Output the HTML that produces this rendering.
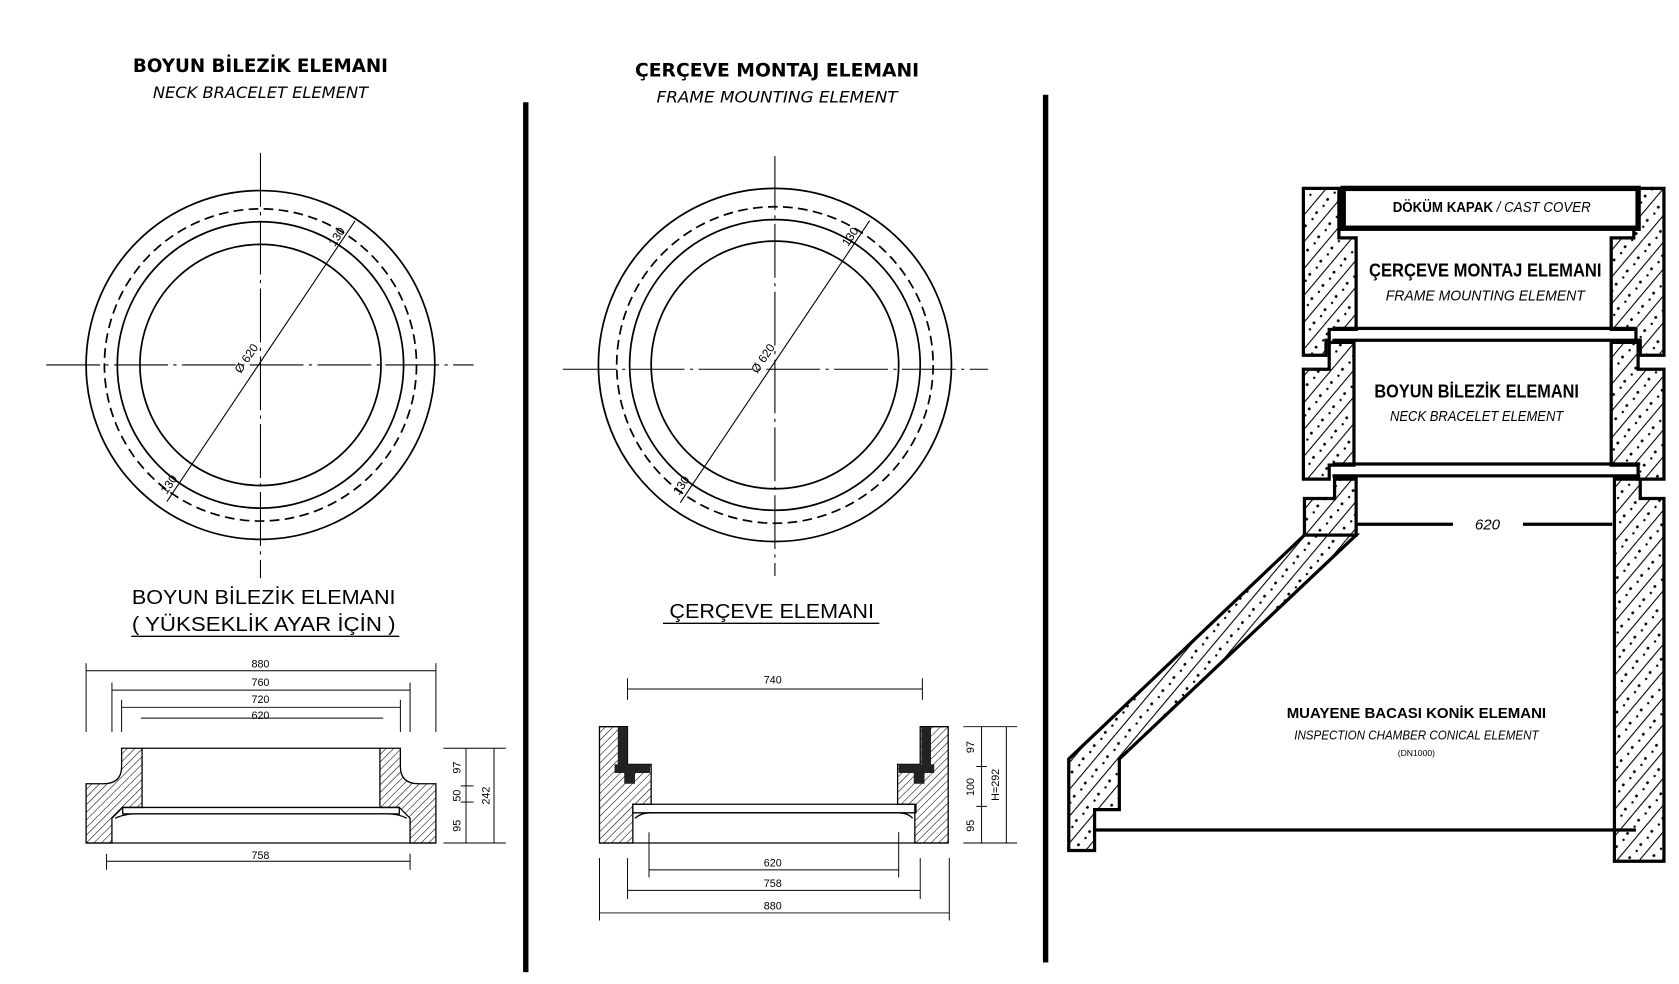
<!DOCTYPE html>
<html><head><meta charset="utf-8"><style>
html,body{margin:0;padding:0;background:#fff;}
svg{display:block}
text{font-family:"Liberation Sans",sans-serif;fill:#000}
.t{font-family:"DejaVu Sans","Liberation Sans",sans-serif;}
</style></head><body>
<svg width="1679" height="984" viewBox="0 0 1560 914" preserveAspectRatio="none" xmlns="http://www.w3.org/2000/svg">
<defs>
<pattern id="h" width="5" height="5" patternUnits="userSpaceOnUse" patternTransform="rotate(45)"><line x1="0" y1="0" x2="0" y2="5" stroke="#000" stroke-width="1"/></pattern>
<pattern id="w" width="16" height="16" patternUnits="userSpaceOnUse" patternTransform="rotate(40)"><line x1="0" y1="0" x2="0" y2="16" stroke="#000" stroke-width="2"/><circle cx="8" cy="5" r="1.3" fill="#000"/><circle cx="9" cy="12" r="1.1" fill="#000"/></pattern>
</defs>
<rect width="1560" height="914" fill="#fff"/>
<rect x="486" y="95" width="5" height="808" fill="#000"/>
<rect x="969" y="88" width="5" height="806" fill="#000"/>

<!-- LEFT PANEL -->
<text class="t" x="242" y="67" font-size="17" font-weight="bold" text-anchor="middle" textLength="237" lengthAdjust="spacingAndGlyphs">BOYUN BİLEZİK ELEMANI</text>
<text class="t" x="242" y="91" font-size="15" font-style="italic" text-anchor="middle" textLength="200" lengthAdjust="spacingAndGlyphs">NECK BRACELET ELEMENT</text>
<g fill="none" stroke="#000" stroke-width="1.6">
<circle cx="242" cy="339" r="162"/>
<circle cx="242" cy="339" r="145" stroke-dasharray="9 5"/>
<circle cx="242" cy="339" r="133"/>
<circle cx="242" cy="339" r="112"/>
</g>
<g stroke="#000" stroke-width="1" stroke-dasharray="50 5 3 5">
<line x1="43" y1="339" x2="440" y2="339"/><line x1="242" y1="142" x2="242" y2="537"/>
</g>
<line x1="155" y1="466" x2="330" y2="205" stroke="#000" stroke-width="1"/>
<text x="232" y="335" font-size="11" transform="rotate(-56 232 335)" text-anchor="middle">Ø 620</text>
<text x="316" y="222" font-size="11" transform="rotate(-56 316 222)" text-anchor="middle">130</text>
<text x="160" y="452" font-size="11" transform="rotate(-56 160 452)" text-anchor="middle">130</text>

<text x="245" y="561" font-size="19" text-anchor="middle" textLength="245" lengthAdjust="spacingAndGlyphs">BOYUN BİLEZİK ELEMANI</text>
<text x="245" y="586" font-size="19" text-anchor="middle" textLength="245" lengthAdjust="spacingAndGlyphs">( YÜKSEKLİK AYAR İÇİN )</text>
<line x1="122" y1="591" x2="371" y2="591" stroke="#000" stroke-width="1.3"/>
<g stroke="#000" stroke-width="0.9" fill="none">
<line x1="80" y1="616" x2="80" y2="680"/><line x1="405" y1="616" x2="405" y2="680"/>
<line x1="80" y1="623" x2="405" y2="623"/>
<line x1="104" y1="634" x2="104" y2="680"/><line x1="381" y1="634" x2="381" y2="680"/>
<line x1="104" y1="641" x2="381" y2="641"/>
<line x1="113" y1="650" x2="113" y2="680"/><line x1="372" y1="650" x2="372" y2="680"/>
<line x1="113" y1="657" x2="372" y2="657"/>
<line x1="131" y1="667" x2="356" y2="667"/>
<line x1="99" y1="793" x2="99" y2="808"/><line x1="381" y1="793" x2="381" y2="808"/>
<line x1="99" y1="800" x2="381" y2="800"/>
<line x1="412" y1="695" x2="470" y2="695"/><line x1="412" y1="783" x2="470" y2="783"/>
<line x1="428" y1="745" x2="440" y2="745"/><line x1="428" y1="730" x2="440" y2="730"/>
<line x1="433" y1="695" x2="433" y2="783"/><line x1="459" y1="695" x2="459" y2="783"/>
</g>
<g font-size="10" text-anchor="middle">
<text x="242" y="620">880</text><text x="242" y="637">760</text><text x="242" y="653">720</text><text x="242" y="668">620</text><text x="242" y="798">758</text>
<text transform="translate(428 713) rotate(-90)">97</text>
<text transform="translate(428 739) rotate(-90)">50</text>
<text transform="translate(428 767) rotate(-90)">95</text>
<text transform="translate(455 739) rotate(-90)">242</text>
</g>
<g stroke="#000" stroke-width="1.2" fill="url(#h)">
<path d="M113 695 H132 V750 H114 L104 760 V783 H80 V728 H96 Q113 728 113 712 Z"/>
<path d="M372 695 H353 V750 H371 L381 760 V783 H405 V728 H389 Q372 728 372 712 Z"/>
</g>
<g stroke="#000" stroke-width="1.2" fill="none">
<line x1="132" y1="695" x2="353" y2="695"/>
<path d="M114 750 H371 V756 H114 Z"/>
<path d="M107 760 Q116 756 125 756 H360 Q370 756 378 760"/>
<line x1="80" y1="783" x2="405" y2="783"/>
</g>

<!-- MIDDLE PANEL -->
<text class="t" x="722" y="71" font-size="17" font-weight="bold" text-anchor="middle" textLength="264" lengthAdjust="spacingAndGlyphs">ÇERÇEVE MONTAJ ELEMANI</text>
<text class="t" x="722" y="95" font-size="15" font-style="italic" text-anchor="middle" textLength="224" lengthAdjust="spacingAndGlyphs">FRAME MOUNTING ELEMENT</text>
<g fill="none" stroke="#000" stroke-width="1.6">
<circle cx="720" cy="339" r="164"/>
<circle cx="720" cy="339" r="147" stroke-dasharray="9 5"/>
<circle cx="720" cy="339" r="135"/>
<circle cx="720" cy="339" r="115"/>
</g>
<g stroke="#000" stroke-width="1" stroke-dasharray="50 5 3 5">
<line x1="523" y1="343" x2="918" y2="343"/><line x1="720" y1="145" x2="720" y2="535"/>
</g>
<line x1="632" y1="467" x2="808" y2="205" stroke="#000" stroke-width="1"/>
<text x="712" y="335" font-size="11" transform="rotate(-56 712 335)" text-anchor="middle">Ø 620</text>
<text x="793" y="222" font-size="11" transform="rotate(-56 793 222)" text-anchor="middle">130</text>
<text x="636" y="453" font-size="11" transform="rotate(-56 636 453)" text-anchor="middle">130</text>

<text x="717" y="574" font-size="19" text-anchor="middle" textLength="190" lengthAdjust="spacingAndGlyphs">ÇERÇEVE ELEMANI</text>
<line x1="616" y1="579" x2="817" y2="579" stroke="#000" stroke-width="1.3"/>
<g stroke="#000" stroke-width="0.9" fill="none">
<line x1="583" y1="630" x2="583" y2="650"/><line x1="857" y1="630" x2="857" y2="650"/>
<line x1="583" y1="640" x2="857" y2="640"/>
<line x1="603" y1="773" x2="603" y2="815"/><line x1="835" y1="773" x2="835" y2="815"/>
<line x1="603" y1="808" x2="835" y2="808"/>
<line x1="583" y1="797" x2="583" y2="835"/><line x1="855" y1="797" x2="855" y2="835"/>
<line x1="583" y1="827" x2="855" y2="827"/>
<line x1="557" y1="797" x2="557" y2="855"/><line x1="882" y1="797" x2="882" y2="855"/>
<line x1="557" y1="848" x2="882" y2="848"/>
<line x1="895" y1="675" x2="945" y2="675"/><line x1="895" y1="783" x2="945" y2="783"/>
<line x1="907" y1="712" x2="917" y2="712"/><line x1="907" y1="749" x2="917" y2="749"/>
<line x1="912" y1="675" x2="912" y2="783"/><line x1="935" y1="675" x2="935" y2="783"/>
</g>
<g font-size="10" text-anchor="middle">
<text x="718" y="635">740</text><text x="718" y="805">620</text><text x="718" y="824">758</text><text x="718" y="845">880</text>
<text transform="translate(905 694) rotate(-90)">97</text>
<text transform="translate(905 731) rotate(-90)">100</text>
<text transform="translate(905 767) rotate(-90)">95</text>
<text transform="translate(928 729) rotate(-90)">H=292</text>
</g>
<g stroke="#000" stroke-width="1.2" fill="url(#h)">
<path d="M557 675 H583 V710 H605 V747 H588 V783 H557 Z"/>
<path d="M881 675 H855 V710 H834 V747 H850 V783 H881 Z"/>
</g>
<g fill="#222">
<path d="M574 675 H583 V710 H604 V718 H590 V728 H580 V718 H571 V710 H574 Z"/>
<path d="M865 675 H856 V710 H835 V718 H849 V728 H859 V718 H868 V710 H865 Z"/>
</g>
<g stroke="#000" stroke-width="1.2" fill="none">
<path d="M588 747 H851 V755 H588 Z"/>
<path d="M590 760 Q596 755 604 755 H835 Q843 755 848 760"/>
<line x1="557" y1="783" x2="881" y2="783"/>
</g>

<!-- RIGHT PANEL -->
<g stroke="#000" stroke-width="3" fill="url(#w)">
<path d="M1211 175 H1244 V221 H1260 V306 H1235 V316 H1232 V330 H1211 Z"/>
<path d="M1546 175 H1518 V221 H1497 V306 H1520 V316 H1524 V330 H1546 Z"/>
<path d="M1211 343 H1235 V318 H1258 V432 H1235 V445 H1211 Z"/>
<path d="M1546 343 H1522 V318 H1497 V432 H1522 V445 H1546 Z"/>
<path d="M1212 463 H1240 V445 H1260 V497 H1212 Z"/>
<path d="M1546 463 H1524 V445 H1500 V800 H1546 Z"/>
<path d="M1212 497 H1260 L1040 705 V752 H1017 V790 H993 V705 Z"/>
</g>
<rect x="1248" y="175" width="274" height="37" fill="#fff" stroke="#000" stroke-width="5"/>
<text x="1386" y="197" font-size="14" text-anchor="middle" textLength="184" lengthAdjust="spacingAndGlyphs"><tspan font-weight="bold">DÖKÜM KAPAK</tspan><tspan font-style="italic"> / CAST COVER</tspan></text>
<g stroke="#000" stroke-width="3" fill="none">
<line x1="1238" y1="305" x2="1520" y2="305"/>
<line x1="1238" y1="316" x2="1520" y2="316"/>
<line x1="1238" y1="431" x2="1524" y2="431"/>
<line x1="1238" y1="442" x2="1524" y2="442"/>
<line x1="1017" y1="771" x2="1520" y2="771"/>
<line x1="1260" y1="487" x2="1350" y2="487"/>
<line x1="1415" y1="487" x2="1498" y2="487"/>
</g>
<text x="1382" y="492" font-size="14" font-style="italic" text-anchor="middle">620</text>
<text x="1380" y="257" font-size="17" font-weight="bold" text-anchor="middle" textLength="216" lengthAdjust="spacingAndGlyphs">ÇERÇEVE MONTAJ ELEMANI</text>
<text x="1380" y="279" font-size="14" font-style="italic" text-anchor="middle" textLength="185" lengthAdjust="spacingAndGlyphs">FRAME MOUNTING ELEMENT</text>
<text x="1372" y="369" font-size="17" font-weight="bold" text-anchor="middle" textLength="190" lengthAdjust="spacingAndGlyphs">BOYUN BİLEZİK ELEMANI</text>
<text x="1372" y="391" font-size="14" font-style="italic" text-anchor="middle" textLength="161" lengthAdjust="spacingAndGlyphs">NECK BRACELET ELEMENT</text>
<text x="1316" y="667" font-size="14" font-weight="bold" text-anchor="middle" textLength="241" lengthAdjust="spacingAndGlyphs">MUAYENE BACASI KONİK ELEMANI</text>
<text x="1316" y="687" font-size="12" font-style="italic" text-anchor="middle" textLength="227" lengthAdjust="spacingAndGlyphs">INSPECTION CHAMBER CONICAL ELEMENT</text>
<text x="1316" y="702" font-size="8" text-anchor="middle">(DN1000)</text>
</svg>
</body></html>
